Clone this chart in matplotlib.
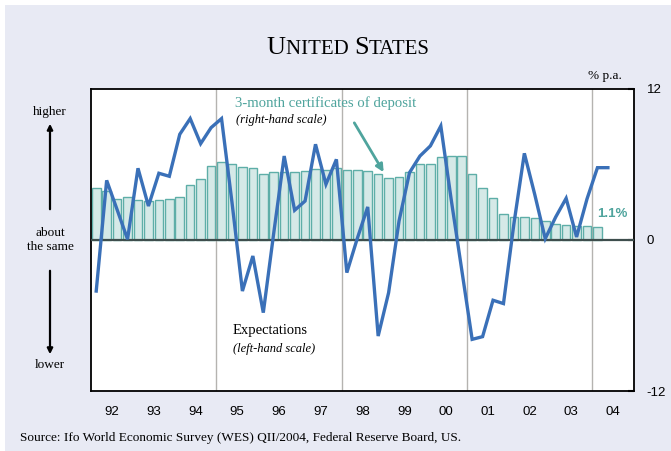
import numpy as np
import matplotlib
matplotlib.use("Agg")
import matplotlib.pyplot as plt
from matplotlib.patches import Rectangle, FancyArrowPatch

# 3-month certificates of deposit, % p.a., quarterly 1992Q1 - 2004Q1
cd_rate = [4.13, 3.90, 3.29, 3.42,
           3.16, 3.10, 3.16, 3.29,
           3.45, 4.37, 4.88, 5.88,
           6.20, 6.02, 5.78, 5.73,
           5.27, 5.41, 5.43, 5.41,
           5.46, 5.67, 5.59, 5.75,
           5.57, 5.57, 5.52, 5.22,
           4.90, 4.98, 5.41, 6.07,
           6.07, 6.60, 6.65, 6.65,
           5.28, 4.11, 3.34, 2.07,
           1.86, 1.86, 1.78, 1.51,
           1.30, 1.17, 1.11, 1.11,
           1.06]

# WES interest rate expectations (balance), quarterly 1992Q1 - 2004Q2
expectations = [-33.8, 39.5, 20.1, 0.5,
                47.5, 22.5, 44.2, 42.2,
                70.0, 80.4, 63.8, 74.4,
                80.4, 25.0, -33.8, -10.6,
                -48.1, 4.6, 55.6, 19.7,
                25.8, 63.4, 36.9, 53.4,
                -21.6, 1.0, 21.9, -63.6,
                -34.9, 12.6, 44.6, 55.6,
                62.3, 75.5, 26.5, -19.6,
                -65.8, -64.0, -39.9, -42.1,
                10.8, 57.4, 30.0, 0.9,
                15.2, 27.6, 2.0, 27.2,
                47.9, 47.9]

year_labels = ["92", "93", "94", "95", "96", "97", "98", "99",
               "00", "01", "02", "03", "04"]

bar_x = 1992 + 0.125 + 0.25 * np.arange(len(cd_rate))
line_x = 1992 + 0.125 + 0.25 * np.arange(len(expectations))

serif = "Liberation Serif"
sans = "Liberation Sans"
teal = "#4fa49d"
blue = "#3a70b8"

fig = plt.figure(figsize=(6.71, 4.51), dpi=100, facecolor="white")
fig.patches.append(Rectangle((5 / 671, 0), 1, 1 - 5 / 451, transform=fig.transFigure,
                             facecolor="#e8eaf4", edgecolor="none", zorder=-10))

ax = fig.add_axes([91 / 671, 60 / 451, 543 / 671, 302 / 451])
ax.set_facecolor("white")
ax.bar(bar_x, cd_rate, width=0.205, color="#d5e9e7", edgecolor="#5eaea8",
       linewidth=1.0, zorder=2)
ax.set_xlim(1992, 2005)
ax.set_ylim(-12, 12)
ax.axhline(0, color="#3e4e4d", lw=1.6, zorder=3)
for yr in [1995, 1998, 2001, 2004]:
    ax.axvline(yr, color="#b5b3b0", lw=1.0, zorder=1)

ax2 = ax.twinx()
ax2.plot(line_x, expectations, color=blue, lw=2.4, zorder=5, solid_joinstyle="miter")
ax2.set_ylim(-100, 100)
ax2.set_yticks([])
for s in ax2.spines.values():
    s.set_visible(False)

# right-hand scale (set after twinx, which moves ticks left)
ax.yaxis.tick_right()
ax.set_yticks([12, 0, -12])
ax.set_yticklabels(["12", "0", "-12"], fontfamily=sans, fontsize=9.5)
ax.tick_params(axis="y", direction="in", length=4, width=1.5, pad=9)
ax.set_xticks(np.arange(1992, 2005) + 0.5)
ax.set_xticklabels(year_labels, fontfamily=sans, fontsize=9.5)
ax.tick_params(axis="x", length=0, pad=11)
for s in ax.spines.values():
    s.set_linewidth(1.3)
    s.set_color("black")

# annotations
ax.text(1995.45, 10.9, "3-month certificates of deposit", color=teal,
        fontfamily=serif, fontsize=10.6, va="center")
ax.text(1995.47, 9.5, "(right-hand scale)", style="italic",
        fontfamily=serif, fontsize=9, va="center")
ax.add_patch(FancyArrowPatch((1998.27, 9.5), (1999.04, 5.2), arrowstyle="-|>",
                             mutation_scale=11, color=teal, lw=2.0, zorder=6))
ax.text(1995.4, -7.2, "Expectations", fontfamily=serif, fontsize=10.5, va="center")
ax.text(1995.4, -8.65, "(left-hand scale)", style="italic",
        fontfamily=serif, fontsize=9, va="center")
ax.text(2004.12, 2.05, "1.1%", color=teal, fontfamily=sans, fontsize=9.5,
        fontweight="bold", va="center")

# left side labels
fig.text(50 / 671, 1 - 112 / 451, "higher", fontfamily=serif, fontsize=9.5,
         ha="center", va="center")
fig.text(50 / 671, 1 - 240 / 451, "about\nthe same", fontfamily=serif, fontsize=9.5,
         ha="center", va="center", linespacing=1.15)
fig.text(50 / 671, 1 - 365 / 451, "lower", fontfamily=serif, fontsize=9.5,
         ha="center", va="center")
fig.patches.append(FancyArrowPatch((50 / 671, 1 - 212 / 451), (50 / 671, 1 - 121 / 451),
                                   transform=fig.transFigure, arrowstyle="-|>",
                                   mutation_scale=8, color="black", lw=1.6))
fig.patches.append(FancyArrowPatch((50 / 671, 1 - 268 / 451), (50 / 671, 1 - 357 / 451),
                                   transform=fig.transFigure, arrowstyle="-|>",
                                   mutation_scale=8, color="black", lw=1.6))

fig.text(605 / 671, 1 - 76 / 451, "% p.a.", fontfamily=serif, fontsize=9.5,
         ha="center", va="center")
fig.text(20 / 671, 1 - 438 / 451, "Source: Ifo World Economic Survey (WES) QII/2004, "
         "Federal Reserve Board, US.", fontfamily=serif, fontsize=9.5, va="center")

# title in small caps, built from pieces
pieces = [("U", 19), ("NITED ", 15), ("S", 19), ("TATES", 15)]
renderer = fig.canvas.get_renderer()
texts = []
x = 0
for s, size in pieces:
    t = fig.text(x, 1 - 54 / 451, s, fontfamily=serif, fontsize=size, va="baseline")
    w = t.get_window_extent(renderer).width / fig.bbox.width
    texts.append((t, w))
    x += w
start = 348 / 671 - x / 2
for t, w in texts:
    t.set_x(start)
    start += w

fig.savefig("out.png", dpi=100, facecolor=fig.get_facecolor())
